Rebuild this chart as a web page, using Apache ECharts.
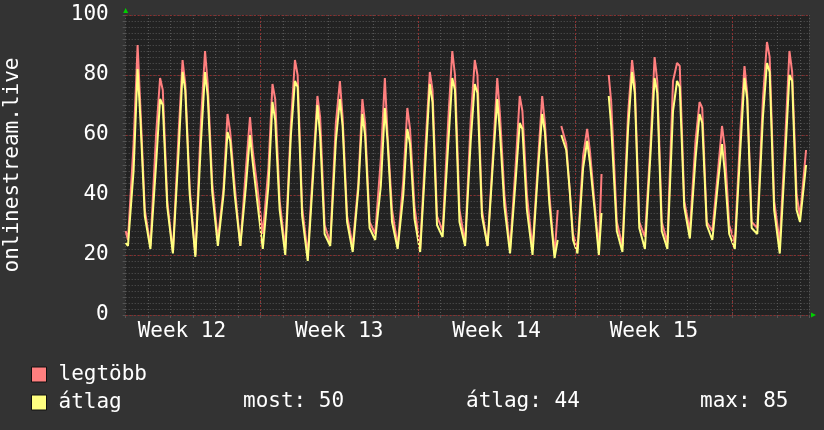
<!DOCTYPE html>
<html><head><meta charset="utf-8">
<script src="https://cdn.jsdelivr.net/npm/echarts@6/dist/echarts.min.js"></script>
<style>html,body{margin:0;padding:0;background:#333333;}#c{width:824px;height:430px;}</style>
</head><body><div id="c"></div>
<script>
// time in days from the first day boundary
const t = [
  0, 0.1, 0.35, 0.53, 0.65, 0.85,
  1.1, 1.35, 1.53, 1.65, 1.85,
  2.1, 2.35, 2.53, 2.65, 2.85,
  3.1, 3.35, 3.53, 3.65, 3.85,
  4.1, 4.35, 4.53, 4.65, 4.85,
  5.1, 5.35, 5.53, 5.65, 5.85,
  6.1, 6.35, 6.53, 6.65, 6.85,
  7.1, 7.35, 7.53, 7.65, 7.85,
  8.1, 8.35, 8.53, 8.65, 8.85,
  9.1, 9.35, 9.53, 9.65, 9.85,
  10.1, 10.35, 10.53, 10.65, 10.85,
  11.1, 11.35, 11.53, 11.65, 11.85,
  12.1, 12.35, 12.53, 12.65, 12.85,
  13.1, 13.35, 13.53, 13.65, 13.85,
  14.1, 14.35, 14.53, 14.65, 14.85,
  15.1, 15.35, 15.53, 15.65, 15.85,
  16.1, 16.35, 16.53, 16.65, 16.85,
  17.1, 17.35, 17.53, 17.65, 17.85,
  18.1, 18.35, 18.53, 18.65, 18.85,
  19.08, 19.22, 19.3, 19.38, 19.6, 19.75, 19.9,
  20.1, 20.35, 20.53, 20.65, 20.85,
  21.05, 21.17, 21.3, 21.49, 21.6, 21.85,
  22.1, 22.35, 22.53, 22.65, 22.85,
  23.1, 23.35, 23.53, 23.65, 23.85,
  24.1, 24.35, 24.53, 24.65, 24.85,
  25.1, 25.35, 25.53, 25.65, 25.85,
  26.1, 26.35, 26.53, 26.65, 26.85,
  27.1, 27.35, 27.53, 27.65, 27.85,
  28.1, 28.35, 28.53, 28.65, 28.85,
  29.1, 29.35, 29.53, 29.65, 29.85,
  30.0, 30.27
];
const legtobb = [
  28, 25, 57, 90, 70, 35,
  23, 60, 79, 75, 38,
  21, 60, 85, 77, 42,
  20, 65, 88, 77, 44,
  25, 42, 67, 61, 43,
  23, 49, 66, 55, 43,
  27, 49, 77, 72, 38,
  22, 64, 85, 80, 36,
  20, 51, 73, 66, 30,
  24, 64, 78, 66, 33,
  23, 44, 72, 64, 31,
  27, 52, 79, 60, 35,
  23, 45, 69, 62, 36,
  22, 58, 81, 75, 33,
  28, 65, 88, 80, 35,
  24, 65, 85, 80, 35,
  23, 55, 79, 67, 40,
  22, 50, 73, 68, 40,
  22, 52, 73, 64, 40,
  20, 35, null, 63, 57, 42, 27,
  22, 53, 62, 55, 38,
  22, 47, null, 80, 71, 31,
  23, 67, 85, 77, 31,
  26, 57, 86, 78, 31,
  24, 78, 84, 83, 38,
  28, 58, 71, 69, 31,
  28, 48, 63, 56, 30,
  24, 62, 83, 74, 31,
  29, 72, 91, 86, 38,
  24, 60, 88, 81, 40,
  33, 55
];
const atlag = [
  24, 23, 48, 82, 66, 33,
  22, 50, 72, 70, 36,
  20.5, 54, 81, 75, 40,
  19.4, 58, 81, 73, 41,
  23, 40, 61, 58, 40,
  23, 43, 60, 51, 38,
  22, 43, 71, 65, 35,
  20, 60, 78, 76, 33,
  18, 48, 70, 60, 27,
  23, 58, 72, 63, 31,
  21, 42, 67, 60, 29,
  25, 43, 69, 58, 31,
  22, 40, 62, 57, 32,
  21, 53, 77, 71, 30,
  26, 57, 79, 75, 31,
  23, 58, 77, 74, 33,
  23, 52, 72, 61, 36,
  20.5, 45, 64, 62, 35,
  20, 49, 67, 61, 37,
  19, 25, null, 60, 55, 42, 25,
  20.5, 49, 58, 51, 36,
  20, 34, null, 73, 63, 28,
  21, 62, 81, 74, 29,
  22, 54, 79, 74, 28,
  22, 68, 78, 76, 36,
  25.5, 52, 67, 64, 30,
  25, 44, 57, 48, 27,
  22, 56, 79, 72, 29,
  27, 66, 84, 81, 35,
  20.5, 54, 80, 78, 35,
  31, 50
];
const weekLabels = ['Week 12', 'Week 13', 'Week 14', 'Week 15'];
const weekLabelPos = [2.5, 9.5, 16.5, 23.5];
const weekLines = [6, 13, 20, 27];
const seriesNames = ['legtöbb', 'átlag'];
const statNames = ['most', 'átlag', 'max'];
const statValues = [50, 44, 85];

const FONT = 'DejaVu Sans Mono';
const toData = arr => t.map((x, i) => [x, arr[i] === null ? '-' : arr[i]]);

const chart = echarts.init(document.getElementById('c'), null, {renderer: 'canvas'});
const option = {
  animation: false,
  backgroundColor: '#333333',
  grid: {left: 125.7, top: 15, right: 15, height: 300, show: true, backgroundColor: '#222222', borderWidth: 0,
         containLabel: false, outerBoundsMode: 'none'},
  xAxis: [{
    type: 'value', min: 0, max: 30.4, interval: 1,
    axisLine: {show: false},
    axisTick: {show: true, length: 3, lineStyle: {color: '#555'}},
    splitLine: {show: true, lineStyle: {color: '#565656', type: [1, 2], width: 1}},
    axisLabel: {
      show: true, customValues: weekLabelPos,
      formatter: v => { const i = weekLabelPos.indexOf(v); return i >= 0 ? weekLabels[i] : ''; },
      color: '#ffffff', fontFamily: FONT, fontSize: 21, margin: 6
    }
  }],
  yAxis: [{
    type: 'value', min: 0, max: 100, interval: 2,
    name: 'onlinestream.live', nameLocation: 'middle', nameRotate: 90, nameGap: 103,
    nameTextStyle: {color: '#ffffff', fontFamily: FONT, fontSize: 21},
    axisLine: {show: false},
    axisTick: {show: true, length: 3, lineStyle: {color: '#555'}},
    splitLine: {show: true, lineStyle: {color: '#565656', type: [1, 2], width: 1}},
    axisLabel: {
      formatter: v => (v % 20 === 0 ? String(v) : ''),
      color: '#ffffff', fontFamily: FONT, fontSize: 21, margin: 17
    }
  }, {
    type: 'value', min: 0, max: 100, interval: 20, position: 'left', z: 1,
    axisLine: {show: false}, axisTick: {show: false}, axisLabel: {show: false},
    splitLine: {show: true, lineStyle: {color: '#8c2f2f', type: [2, 2], width: 1}}
  }],
  legend: {
    orient: 'vertical', left: 31, top: 364, padding: 0, itemWidth: 15, itemHeight: 15, itemGap: 7,
    icon: 'rect', selectedMode: false,
    itemStyle: {borderColor: '#111', borderWidth: 1},
    textStyle: {color: '#ffffff', fontFamily: FONT, fontSize: 21, lineHeight: 21, padding: [0, 0, 0, 7]},
    data: seriesNames
  },
  series: [{
    name: seriesNames[0], type: 'line', data: toData(legtobb), showSymbol: false,
    connectNulls: false, color: '#ff7f7f', lineStyle: {width: 2, color: '#ff7f7f'}, z: 3,
    markLine: {
      silent: true, symbol: 'none', label: {show: false}, animation: false,
      lineStyle: {color: '#8c2f2f', type: [2, 2], width: 1},
      data: weekLines.map(v => ({xAxis: v}))
    }
  }, {
    name: seriesNames[1], type: 'line', data: toData(atlag), showSymbol: false,
    connectNulls: false, color: '#ffff80', lineStyle: {width: 2, color: '#ffff80'}, z: 4
  }]
};
chart.setOption(option);

const pTop = chart.convertToPixel({xAxisIndex: 0, yAxisIndex: 0}, [0, 100]);
const pEnd = chart.convertToPixel({xAxisIndex: 0, yAxisIndex: 0}, [30.4, 0]);
const statX = [243, 466, 700];
chart.setOption({
  graphic: [
    {type: 'polygon', shape: {points: [[pTop[0], pTop[1] - 7], [pTop[0] - 2.5, pTop[1] - 2], [pTop[0] + 2.5, pTop[1] - 2]]}, style: {fill: '#00d000'}},
    {type: 'polygon', shape: {points: [[pEnd[0] + 2, pEnd[1] - 2.5], [pEnd[0] + 2, pEnd[1] + 2.5], [pEnd[0] + 7, pEnd[1]]]}, style: {fill: '#00d000'}}
  ].concat(statNames.map((n, i) => ({
    type: 'text', left: statX[i], top: 391,
    style: {text: n + ': ' + statValues[i], fill: '#ffffff', font: '21px "DejaVu Sans Mono"'}
  })))
});
</script></body></html>
